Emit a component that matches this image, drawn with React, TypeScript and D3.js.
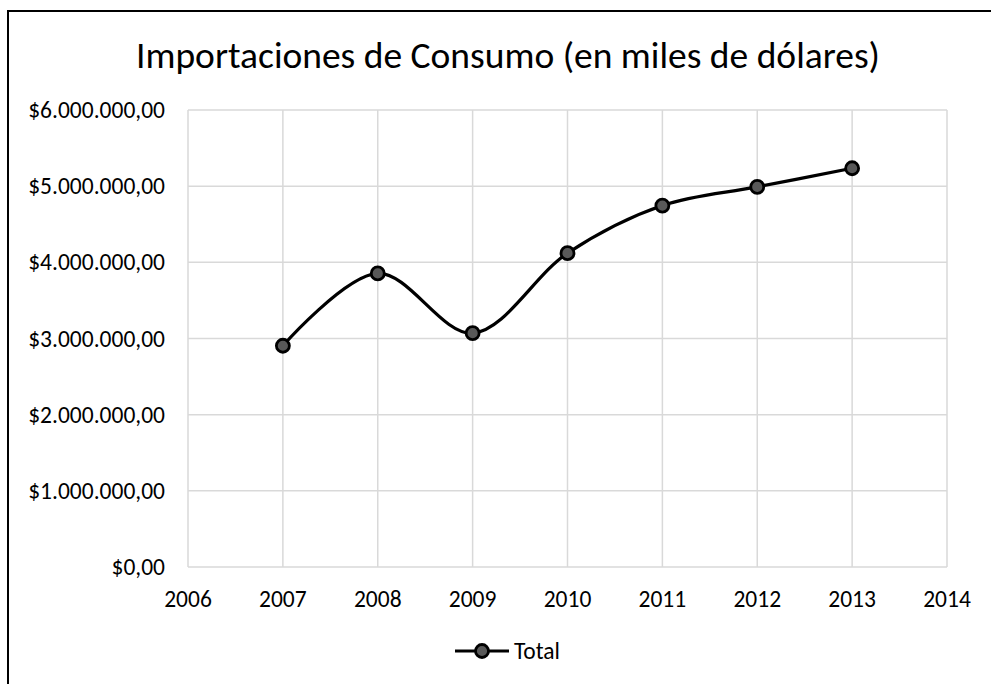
import React from "react";
import * as d3 from "d3";

const years = [2007, 2008, 2009, 2010, 2011, 2012, 2013];
const totals = [2905000, 3855000, 3070000, 4120000, 4745000, 4990000, 5235000];
const xTicks = [2006, 2007, 2008, 2009, 2010, 2011, 2012, 2013, 2014];
const yTicks = [0, 1000000, 2000000, 3000000, 4000000, 5000000, 6000000];
const title = "Importaciones de Consumo (en miles de dólares)";
const seriesName = "Total";

const W = 991, H = 684;
const FONT = "Carlito, Calibri, 'Open Sans', 'Noto Sans', sans-serif";

function fmt(v: number) {
  const s = Math.round(v).toString().replace(/\B(?=(\d{3})+(?!\d))/g, ".");
  return "$" + s + ",00";
}

export default function App() {
  const x = d3.scaleLinear().domain([2006, 2014]).range([188, 947]);
  const y = d3.scaleLinear().domain([0, 6000000]).range([567, 110]);
  const line = d3.line<number>()
    .x((_, i) => x(years[i]))
    .y((d) => y(d))
    .curve(d3.curveCatmullRom.alpha(0.5));
  return (
    <svg width={W} height={H} style={{ position: "absolute", left: 0, top: 0 }} fontFamily={FONT}>
      <rect x={0} y={0} width={W} height={H} fill="#fff" />
      <rect x={8} y={11} width={1000} height={700} fill="none" stroke="#000" strokeWidth={2} />
      <text x={508} y={68} textAnchor="middle" fontSize={37.5} fill="#000">{title}</text>
      {yTicks.map((t) => (
        <line key={"gy" + t} x1={188} x2={947} y1={y(t)} y2={y(t)} stroke="#d9d9d9" strokeWidth={1.5} />
      ))}
      {xTicks.map((t) => (
        <line key={"gx" + t} x1={x(t)} x2={x(t)} y1={110} y2={567} stroke="#d9d9d9" strokeWidth={1.5} />
      ))}
      {yTicks.map((t) => (
        <text key={"ly" + t} x={165} y={y(t) + 8} textAnchor="end" fontSize={23.5} fill="#000">{fmt(t)}</text>
      ))}
      {xTicks.map((t) => (
        <text key={"lx" + t} x={x(t)} y={607} textAnchor="middle" fontSize={23.5} fill="#000">{t}</text>
      ))}
      <path d={line(totals) || ""} fill="none" stroke="#000" strokeWidth={3.2} />
      {totals.map((v, i) => (
        <circle key={"p" + i} cx={x(years[i])} cy={y(v)} r={6.5} fill="#595959" stroke="#000" strokeWidth={2.8} />
      ))}
      <line x1={455} x2={509} y1={651} y2={651} stroke="#000" strokeWidth={3.2} />
      <circle cx={482} cy={651} r={6.5} fill="#595959" stroke="#000" strokeWidth={2.8} />
      <text x={514} y={659} fontSize={23.5} fill="#000">{seriesName}</text>
    </svg>
  );
}
